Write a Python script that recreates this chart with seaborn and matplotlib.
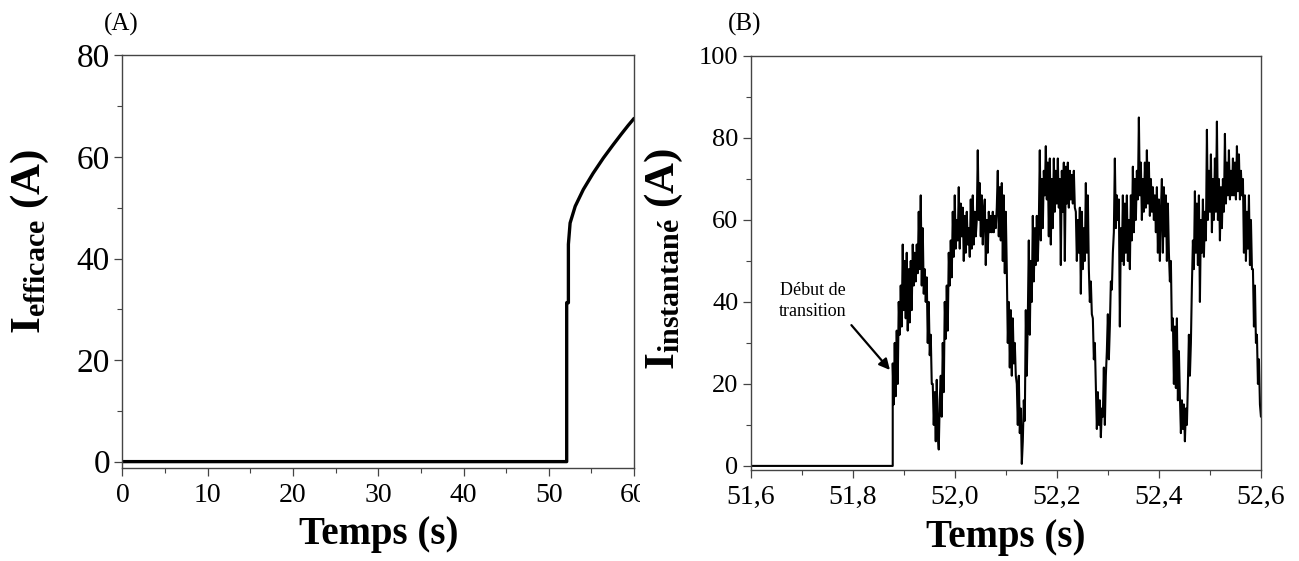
import numpy as np
import pandas as pd
import matplotlib
matplotlib.use("Agg")
import matplotlib.pyplot as plt
import seaborn as sns
from matplotlib.ticker import MultipleLocator
from matplotlib.transforms import Bbox, TransformedBbox

# (A) courant efficace
eff_time = [0, 52.1, 52.1, 52.3, 52.3, 52.5, 53.1, 54.05, 55.2, 56.4, 57.5, 58.5, 59.3, 60]
eff_current = [0, 0, 31.3, 31.3, 42.8, 47, 50.3, 53.6, 56.8, 59.8, 62.3, 64.5, 66.2, 67.6]

# (B) courant instantané (pas constant)
base_time = [51.6, 51.878]
base_current = [0, 0]
inst_start, inst_end = 51.878, 52.6
inst_current = [
    25, 15, 30, 17, 33, 20, 40, 32, 44, 34, 54, 38, 50, 36, 52, 33, 48, 35, 50, 38,
    54, 44, 52, 45, 54, 47, 62, 48, 66, 44, 58, 42, 48, 40, 46, 30, 40, 27, 32, 20,
    20, 10, 18, 6, 21, 8, 4, 16, 22, 12, 30, 18, 40, 31, 44, 33, 52, 44, 55, 46,
    62, 51, 66, 53, 60, 55, 68, 53, 64, 56, 63, 50, 61, 52, 62, 54, 58, 51, 65, 53,
    66, 54, 62, 56, 60, 77, 60, 69, 56, 66, 54, 62, 65, 49, 60, 52, 62, 57, 61, 57,
    62, 57, 61, 58, 63, 72, 56, 68, 55, 69, 50, 66, 47, 62, 48, 30, 40, 24, 38, 22,
    36, 25, 30, 22, 20, 10, 22, 8, 14, 0.5, 6, 16, 11, 38, 22, 36, 55, 32, 50, 40,
    61, 45, 58, 49, 61, 50, 59, 77, 55, 70, 58, 72, 66, 78, 65, 74, 56, 75, 54, 70,
    58, 75, 62, 72, 64, 75, 63, 70, 49, 72, 62, 74, 50, 73, 64, 74, 63, 72, 65, 71,
    64, 72, 63, 62, 50, 60, 52, 63, 42, 62, 48, 58, 50, 69, 52, 66, 48, 40, 45, 37,
    36, 26, 30, 20, 9, 18, 10, 16, 7, 14, 12, 24, 10, 22, 28, 37, 26, 34, 45, 43,
    52, 57, 75, 58, 66, 60, 65, 34, 58, 50, 66, 49, 64, 52, 66, 50, 60, 48, 66, 55,
    73, 57, 70, 60, 72, 65, 85, 66, 74, 60, 70, 62, 74, 63, 77, 64, 74, 61, 70, 62,
    68, 60, 66, 57, 68, 52, 65, 50, 62, 70, 52, 68, 56, 66, 50, 64, 52, 45, 50, 33,
    36, 20, 34, 19, 36, 16, 28, 17, 8, 16, 9, 15, 6, 14, 10, 20, 32, 22, 30, 44,
    55, 48, 67, 52, 64, 49, 66, 40, 60, 52, 65, 51, 62, 55, 82, 60, 72, 62, 76, 57,
    70, 60, 75, 62, 84, 60, 70, 55, 68, 58, 70, 62, 81, 64, 74, 66, 77, 65, 72, 66,
    75, 66, 74, 65, 78, 67, 76, 65, 72, 66, 70, 52, 66, 50, 62, 53, 66, 49, 60, 48,
    48, 34, 44, 30, 32, 20, 26, 15, 12,
]

left_xticks = [0, 10, 20, 30, 40, 50, 60]
left_yticks = [0, 20, 40, 60, 80]
right_xticks = [51.6, 51.8, 52.0, 52.2, 52.4, 52.6]
right_xticklabels = ["51,6", "51,8", "52,0", "52,2", "52,4", "52,6"]
right_yticks = [0, 20, 40, 60, 80, 100]

sns.set_theme(style="ticks")
plt.rcParams["font.family"] = ["Liberation Serif", "DejaVu Serif"]
plt.rcParams["mathtext.fontset"] = "custom"
plt.rcParams["mathtext.rm"] = "Liberation Serif"
plt.rcParams["mathtext.it"] = "Liberation Serif:italic"
plt.rcParams["mathtext.bf"] = "Liberation Serif:bold"
plt.rcParams["text.color"] = "black"
plt.rcParams["axes.labelcolor"] = "black"
plt.rcParams["xtick.labelcolor"] = "black"
plt.rcParams["ytick.labelcolor"] = "black"

df_eff = pd.DataFrame({"t": eff_time, "i": eff_current})
inst_time = np.linspace(inst_start, inst_end, len(inst_current))
df_inst = pd.DataFrame({"t": list(base_time) + list(inst_time),
                        "i": list(base_current) + list(inst_current)})

fig = plt.figure(figsize=(12.99, 5.61), dpi=100)
ax1 = fig.add_axes([0.0943, 0.1663, 0.3938, 0.7348])
ax2 = fig.add_axes([0.5781, 0.1622, 0.3926, 0.738])

sns.lineplot(data=df_eff, x="t", y="i", ax=ax1, color="black", lw=2.4,
             estimator=None, sort=False)
sns.lineplot(data=df_inst, x="t", y="i", ax=ax2, color="black", lw=1.5,
             estimator=None, sort=False)

for ax in (ax1, ax2):
    for sp in ax.spines.values():
        sp.set_visible(True)
        sp.set_color("#444444")
        sp.set_linewidth(1.0)
    ax.tick_params(which="major", direction="out", length=6, width=0.9,
                   color="#444444", top=False, right=False)
    ax.tick_params(which="minor", direction="out", length=3.5, width=0.8,
                   color="#444444", top=False, right=False)
    ax.set_xlabel("Temps (s)", fontsize=28, fontweight="bold", labelpad=6)

# panneau A
ax1.set_xlim(0, 60)
ax1.set_ylim(-1.2, 80)
ax1.set_xticks(left_xticks)
ax1.set_yticks(left_yticks)
ax1.xaxis.set_minor_locator(MultipleLocator(5))
ax1.yaxis.set_minor_locator(MultipleLocator(10))
ax1.tick_params(axis="x", labelsize=20, pad=5)
ax1.tick_params(axis="y", labelsize=24, pad=3)
ax1.set_ylabel(r"$\mathbf{I_{efficace}\ (A)}$", fontsize=31)
ax1.yaxis.set_label_coords(-0.14, 0.55)

# panneau B
ax2.set_xlim(51.6, 52.6)
ax2.set_ylim(-1, 100)
ax2.set_xticks(right_xticks)
ax2.set_xticklabels(right_xticklabels)
ax2.set_yticks(right_yticks)
ax2.xaxis.set_minor_locator(MultipleLocator(0.1))
ax2.yaxis.set_minor_locator(MultipleLocator(10))
ax2.tick_params(axis="x", labelsize=20, pad=5)
ax2.tick_params(axis="y", labelsize=19, pad=3)
ax2.set_ylabel(r"$\mathbf{I_{instantané}\ (A)}$", fontsize=31)
ax2.yaxis.set_label_coords(-0.13, 0.51)

ax2.annotate("Début de\ntransition", xy=(51.8725, 23.4), xytext=(51.7216, 40.2),
             ha="center", va="center", fontsize=13, linespacing=1.25,
             arrowprops=dict(arrowstyle="-|>", color="black", lw=1.6,
                             mutation_scale=16, shrinkA=2, shrinkB=0,
                             relpos=(1.0, 0.0)))

fig.text(121 / 1299, 1 - 24 / 561, "(A)", fontsize=18, ha="center", va="center")
fig.text(745 / 1299, 1 - 24 / 561, "(B)", fontsize=18, ha="center", va="center")

# le "60" est coupé par le panneau B dans l'original
clip = TransformedBbox(Bbox([[0, 0], [640 / 1299, 1]]), fig.transFigure)
lab = ax1.xaxis.get_major_ticks()[-1].label1
lab.set_clip_on(True)
lab.set_clip_box(clip)

fig.savefig("out.png", dpi=100, facecolor="white")
